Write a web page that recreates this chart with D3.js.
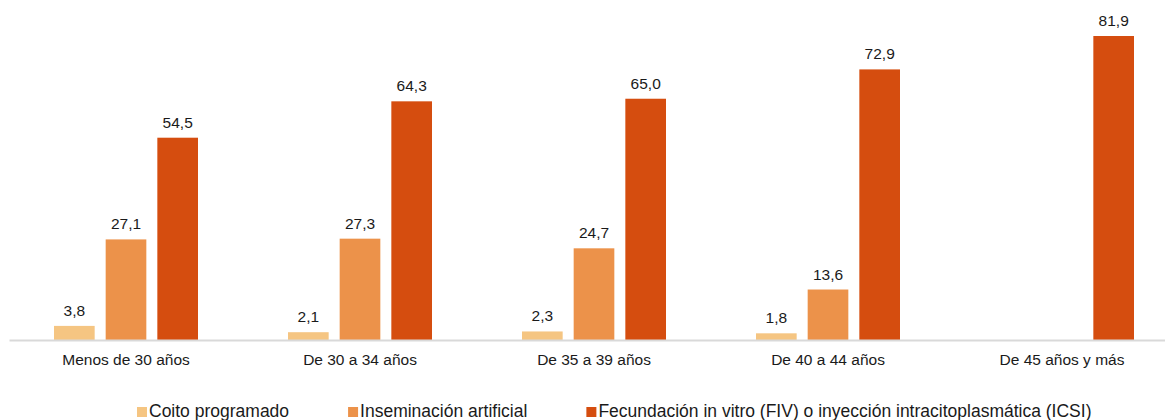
<!DOCTYPE html>
<html>
<head>
<meta charset="utf-8">
<script src="https://cdn.jsdelivr.net/npm/d3@7"></script>
<style>
  body { margin: 0; background: #fff; }
  svg { display: block; font-family: "Liberation Sans", Arial, sans-serif; }
</style>
</head>
<body>
<svg id="chart" width="1165" height="420"></svg>
<script>
// data
var categories = ["Menos de 30 años", "De 30 a 34 años", "De 35 a 39 años", "De 40 a 44 años", "De 45 años y más"];
var seriesNames = ["Coito programado", "Inseminación artificial", "Fecundación in vitro (FIV) o inyección intracitoplasmática (ICSI)"];
var coito = [3.8, 2.1, 2.3, 1.8, null];
var inseminacion = [27.1, 27.3, 24.7, 13.6, null];
var fiv = [54.5, 64.3, 65.0, 72.9, 81.9];
var seriesValues = [coito, inseminacion, fiv];
var colors = ["#F5C582", "#EC924A", "#D54D0F"];

var svg = d3.select("#chart"),
    baseline = 340,
    plotTop = 36;

var x = d3.scaleBand()
    .domain(categories)
    .range([9, 9 + 5 * 234])
    .paddingInner(0)
    .paddingOuter(0);

var xs = d3.scaleBand()
    .domain(d3.range(seriesNames.length))
    .range([-72, 72])
    .paddingInner(0.213)
    .paddingOuter(0);

var y = d3.scaleLinear()
    .domain([0, 81.9])
    .range([baseline, plotTop]);

var fmt = function (v) { return d3.format(".1f")(v).replace(".", ","); };

// build rows for bars
var rows = [];
categories.forEach(function (c, i) {
    seriesValues.forEach(function (vals, s) {
        if (vals[i] != null) rows.push({ cat: c, s: s, v: vals[i] });
    });
});

var g = svg.append("g");

g.selectAll("rect.bar")
    .data(rows)
    .enter()
    .append("rect")
    .attr("class", "bar")
    .attr("x", function (d) { return x(d.cat) + x.bandwidth() / 2 + xs(d.s); })
    .attr("y", function (d) { return y(d.v); })
    .attr("width", xs.bandwidth())
    .attr("height", function (d) { return baseline - y(d.v); })
    .attr("fill", function (d) { return colors[d.s]; });

g.selectAll("text.val")
    .data(rows)
    .enter()
    .append("text")
    .attr("class", "val")
    .attr("x", function (d) { return x(d.cat) + x.bandwidth() / 2 + xs(d.s) + xs.bandwidth() / 2; })
    .attr("y", function (d) { return y(d.v) - 10; })
    .attr("text-anchor", "middle")
    .style("font-size", "15.5px")
    .style("fill", "#1a1a1a")
    .text(function (d) { return fmt(d.v); });

// x axis
var axis = svg.append("g")
    .attr("transform", "translate(0," + baseline + ")")
    .call(d3.axisBottom(x).tickSize(0).tickPadding(0));
axis.select(".domain").attr("stroke", "#D9D9D9").attr("stroke-width", 2);
axis.selectAll(".tick text")
    .attr("dy", null)
    .attr("y", 25)
    .style("font-size", "15.5px")
    .style("font-family", "'Liberation Sans', Arial, sans-serif")
    .style("fill", "#1a1a1a");

// legend
var legend = svg.append("g");
var items = legend.selectAll("g.item")
    .data(seriesNames)
    .enter()
    .append("g")
    .attr("class", "item");
items.append("rect")
    .attr("width", 10)
    .attr("height", 10)
    .attr("y", 407)
    .attr("fill", function (d, i) { return colors[i]; });
items.append("text")
    .attr("x", 12)
    .attr("y", 417)
    .style("font-size", "17.5px")
    .style("fill", "#1a1a1a")
    .text(function (d) { return d; });

var offs = [], cur = 137;
items.each(function () {
    var w = 12 + d3.select(this).select("text").node().getComputedTextLength();
    offs.push(cur);
    cur += w + 59;
});
items.attr("transform", function (d, i) { return "translate(" + offs[i] + ",0)"; });
</script>
</body>
</html>
